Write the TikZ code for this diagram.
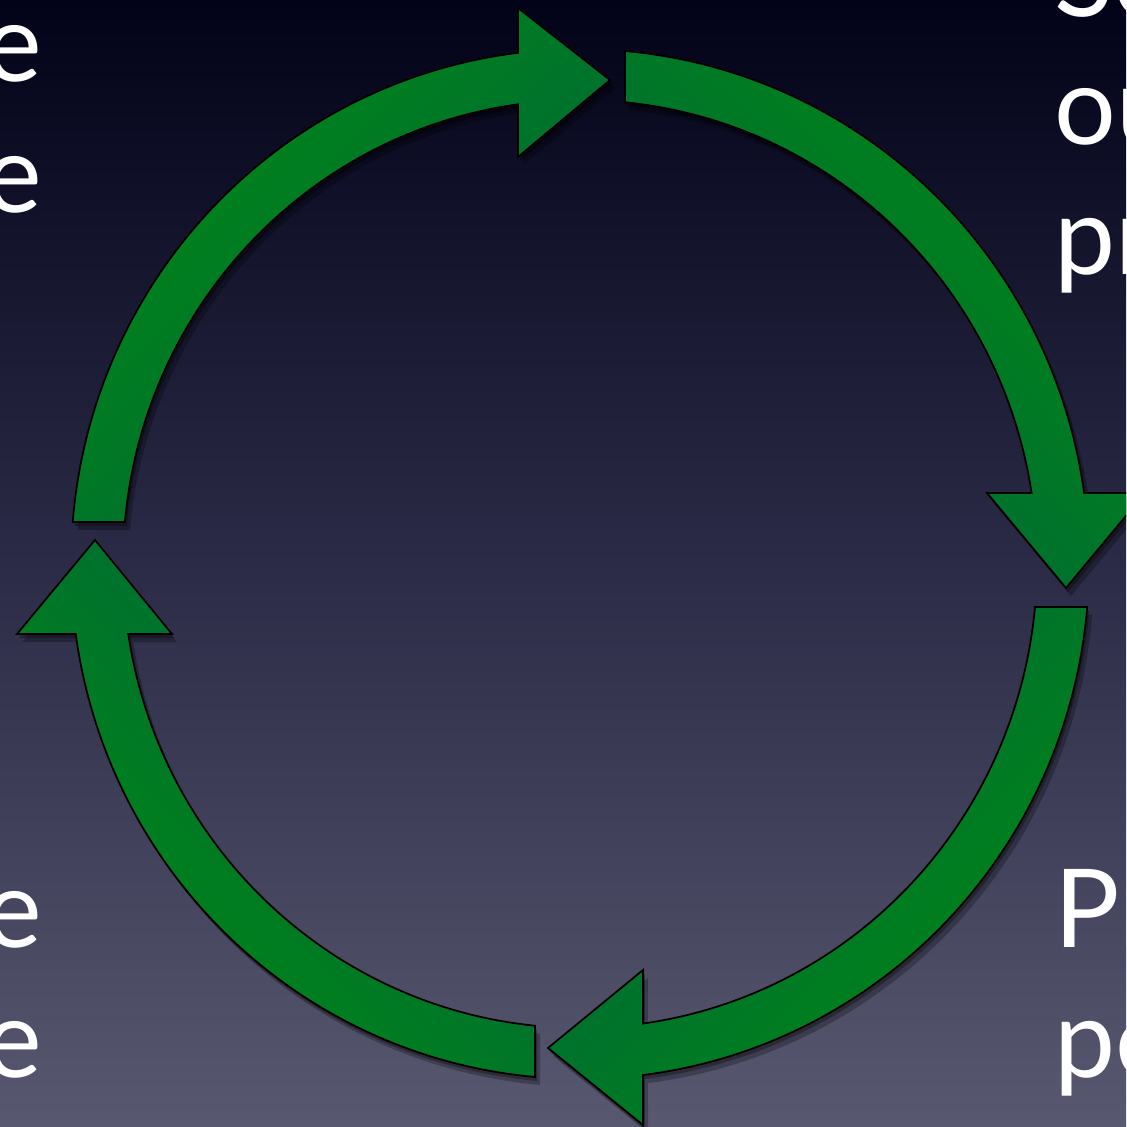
\documentclass[tikz,border=0pt]{standalone}
\usepackage{fontspec}
\setmainfont{Lato}
\usepackage{tikz}
\usetikzlibrary{shadows}
\definecolor{bgtop}{RGB}{2,2,24}
\definecolor{bgmid}{RGB}{43,43,71}
\definecolor{bgbot}{RGB}{88,88,112}
\definecolor{greenlight}{RGB}{0,136,20}
\definecolor{greendark}{RGB}{0,100,60}

\begin{document}
\begin{tikzpicture}[x=0.01cm, y=0.01cm,
    arrowbody/.style={draw=black, line width=0.5pt, line join=miter,
      left color=greenlight, right color=greendark,
      drop shadow={fill=black, opacity=0.25, shadow xshift=0.05cm, shadow yshift=-0.08cm},
      drop shadow={fill=black, opacity=0.3, shadow xshift=0.02cm, shadow yshift=-0.04cm}},
    txt/.style={inner sep=0pt, text=white, font=\fontsize{31}{37}\selectfont}]
% frame
\useasboundingbox (-580,-563) rectangle (546,564);
\clip (-580,-563) rectangle (546,564);
\shade[top color=bgtop, bottom color=bgbot, middle color=bgmid] (-580,-563) rectangle (546,564);

% left column
\node[txt, anchor=base east] (e1) at (-537,482) {e};
\node[txt, anchor=base east] (e2) at (-537,351) {e};
\node[txt, anchor=base east] (e3) at (-537,-383) {e};
\node[txt, anchor=base east] (e4) at (-537,-513) {e};

% right column
\node[txt, anchor=base west] (r1) at (474,547) {Se};
\node[txt, anchor=base west] (r2) at (474,419) {ou};
\node[txt, anchor=base west] (r3) at (474,289) {pr};
\node[txt, anchor=base west] (r4) at (474,-383) {Pr};
\node[txt, anchor=base west] (r5) at (474,-513) {pe};

% cycle arrows
\shade[arrowbody, shading angle=45]
  (175.32:509 and 515) arc[start angle=175.32, end angle=97.0, x radius=509, y radius=515]
  -- (-62,556) -- (30,484) -- (-62,407)
  -- (97.8:457 and 464) arc[start angle=97.8, end angle=174.81, x radius=457, y radius=464] -- cycle;
\shade[arrowbody, shading angle=-45]
  (84.93:509 and 515) arc[start angle=84.93, end angle=7.92, x radius=509, y radius=515]
  -- (565,71) -- (486,-24) -- (407,71)
  -- (8.8:457 and 464) arc[start angle=8.8, end angle=84.35, x radius=457, y radius=464] -- cycle;
\shade[arrowbody, shading angle=-135]
  (-4.79:509 and 515) arc[start angle=-4.79, end angle=-82.89, x radius=509, y radius=515]
  -- (63,-561) -- (-32,-484) -- (63,-406)
  -- (-82.08:457 and 464) arc[start angle=-82.08, end angle=-5.32, x radius=457, y radius=464] -- cycle;
\shade[arrowbody, shading angle=135]
  (-95.07:509 and 515) arc[start angle=-95.07, end angle=-172.19, x radius=509, y radius=515]
  -- (-563,-70) -- (-485,24) -- (-408,-70)
  -- (-171.32:457 and 464) arc[start angle=-171.32, end angle=-95.65, x radius=457, y radius=464] -- cycle;
\end{tikzpicture}
\end{document}
